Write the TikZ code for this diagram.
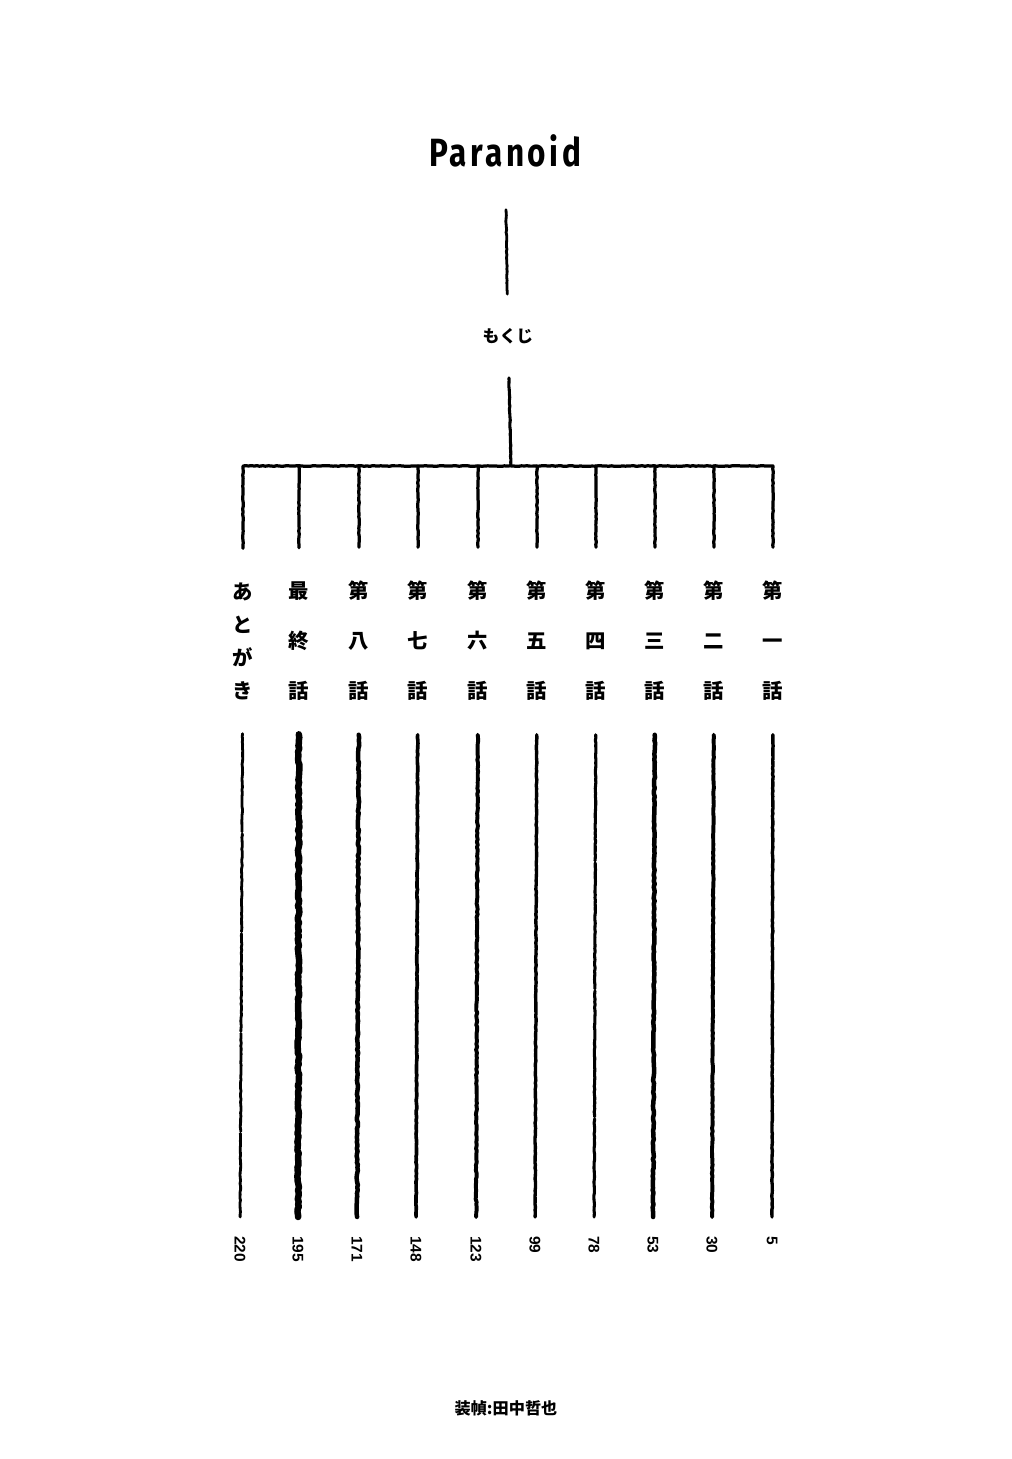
\documentclass[tikz,border=0pt]{standalone}
\usepackage{fontspec}
\usetikzlibrary{decorations.pathmorphing}
\newfontfamily\jpfont{Noto Sans CJK JP}
\newfontfamily\titlefont[LetterSpace=11]{Fira Sans}
\newfontfamily\numfont{Liberation Sans}
\begin{document}
\begin{tikzpicture}
[x=0.025cm,y=-0.025cm,every node/.style={inner sep=0pt,text=black},
 chap/.style={font=\jpfont\bfseries\fontsize{14.5}{35.5}\selectfont,align=center,inner ysep=24pt},
 kana/.style={font=\jpfont\bfseries\fontsize{14.5}{23.5}\selectfont},
 page/.style={font=\numfont\bfseries\fontsize{11}{11}\selectfont,rotate=-90,anchor=west,inner xsep=13.5pt}]
\pgfmathsetseed{12}
\fill[white] (0,0) rectangle (1012,1459);
\node[font=\titlefont\bfseries\fontsize{28}{30}\selectfont,xscale=.8,inner ysep=30pt] (title) at (505,151) {Paranoid};
\node[font=\jpfont\bfseries\fontsize{12}{12}\selectfont,inner ysep=24pt] (toc) at (508,336) {もくじ};
\coordinate (hub) at (511,466);
\node[chap,kana] (c1) at (243,641) {あ\\と\\が\\き};
\node[chap] (c2) at (299,641) {最\\終\\話};
\node[chap] (c3) at (359,641) {第\\八\\話};
\node[chap] (c4) at (418,641) {第\\七\\話};
\node[chap] (c5) at (478,641) {第\\六\\話};
\node[chap] (c6) at (537,641) {第\\五\\話};
\node[chap] (c7) at (596,641) {第\\四\\話};
\node[chap] (c8) at (655,641) {第\\三\\話};
\node[chap] (c9) at (714,641) {第\\二\\話};
\node[chap] (c10) at (773,641) {第\\一\\話};
\node[page] (p1) at (240,1217) {220};
\node[page] (p2) at (298,1217) {195};
\node[page] (p3) at (357,1217) {171};
\node[page] (p4) at (416,1217) {148};
\node[page] (p5) at (476,1217) {123};
\node[page] (p6) at (535,1217) {99};
\node[page] (p7) at (594,1217) {78};
\node[page] (p8) at (653,1217) {53};
\node[page] (p9) at (712,1217) {30};
\node[page] (p10) at (772,1217) {5};
\node[font=\jpfont\bfseries\fontsize{11.5}{11.5}\selectfont] (credit) at (506,1408) {装幀:田中哲也};
\tikzset{RuleStyle/.style={draw=black,decorate,decoration={random steps,segment length=2pt,amplitude=.25pt},line width=#1,line cap=round,line join=round}}
\draw[RuleStyle=2pt] (title) -- (toc);
\draw[RuleStyle=2.2pt] (toc) -- (hub);
\draw[RuleStyle=2.3pt] (c1.north) -- (c1.north |- hub) -- (c10.north |- hub) -- (c10.north);
\draw[RuleStyle=2.3pt] (c2.north |- hub) -- (c2.north) (c3.north |- hub) -- (c3.north)
  (c4.north |- hub) -- (c4.north) (c5.north |- hub) -- (c5.north)
  (c6.north |- hub) -- (c6.north) (c7.north |- hub) -- (c7.north)
  (c8.north |- hub) -- (c8.north) (c9.north |- hub) -- (c9.north);
\draw[RuleStyle=2pt,dash pattern=on 70pt off 1.5pt] (c1) -- (p1);
\draw[RuleStyle=4.6pt,decoration={amplitude=.6pt}] (c2) -- (p2);
\draw[RuleStyle=3.2pt,decoration={amplitude=.45pt}] (c3) -- (p3);
\draw[RuleStyle=2.6pt] (c4) -- (p4);
\draw[RuleStyle=2.8pt,decoration={amplitude=.4pt}] (c5) -- (p5);
\draw[RuleStyle=2.4pt] (c6) -- (p6);
\draw[RuleStyle=2.2pt,dash pattern=on 90pt off 1.5pt] (c7) -- (p7);
\draw[RuleStyle=3.2pt,decoration={amplitude=.4pt}] (c8) -- (p8);
\draw[RuleStyle=2.8pt] (c9) -- (p9);
\draw[RuleStyle=2.4pt] (c10) -- (p10);
\end{tikzpicture}
\end{document}
